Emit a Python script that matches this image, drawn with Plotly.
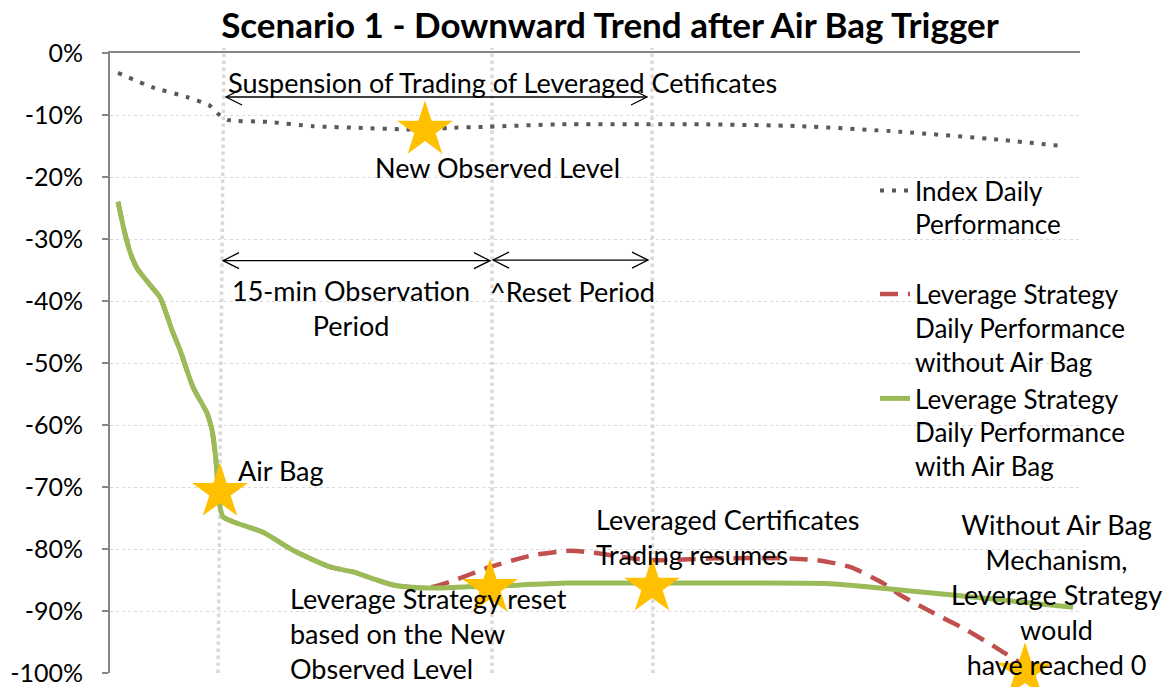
import plotly.graph_objects as go

# ---- data (time in arbitrary intraday units, values in %) ----
index_t = [0.8, 4.2, 7.7, 10.0, 10.8, 11.8, 15.7, 20.3, 25.3, 29.0, 31.5, 33.8, 37.7, 45.0, 54.0, 59.0, 69.0, 79.0, 89.0, 95.2]
index_v = [-3.2, -5.5, -7.1, -8.5, -9.8, -10.8, -11.1, -11.8, -12.1, -12.3, -12.4, -12.1, -11.9, -11.5, -11.5, -11.5, -11.8, -12.7, -14.0, -15.0]

airbag_t = [0.8, 1.4, 2.0, 2.7, 4.0, 5.0, 6.2, 7.0, 8.3, 9.7, 10.2, 10.7, 10.8, 11.3, 12.3, 15.3, 18.3, 22.0, 24.3, 28.3, 31.7,
            35.7, 38.2, 45.7, 54.0, 63.0, 72.0, 79.0, 89.0, 96.3]
airbag_v = [-24.0, -28.5, -32.1, -34.7, -37.4, -39.4, -44.7, -47.9, -53.9, -58.1, -60.8, -67.7, -71.0, -74.8, -75.6, -77.3, -80.2, -82.9, -83.7, -85.8, -86.3,
            -86.1, -86.0, -85.5, -85.5, -85.5, -85.6, -86.6, -88.2, -89.4]

noairbag_t = [0.8, 1.4, 2.0, 2.7, 4.0, 5.0, 6.2, 7.0, 8.3, 9.7, 10.2, 10.7, 10.8, 11.3, 12.3, 15.3, 18.3, 22.0, 24.3, 28.3, 31.7,
              34.0, 38.0, 42.3, 46.0, 48.3, 54.0, 60.7, 67.3, 70.7, 74.0, 77.3, 79.0, 82.3, 85.7, 89.0, 92.6]
noairbag_v = [-24.0, -28.5, -32.1, -34.7, -37.4, -39.4, -44.7, -47.9, -53.9, -58.1, -60.8, -67.7, -71.0, -74.8, -75.6, -77.3, -80.2, -82.9, -83.7, -85.8, -86.3,
              -85.3, -82.9, -81.0, -80.3, -80.6, -81.8, -81.5, -81.5, -81.8, -82.9, -85.5, -87.4, -90.3, -93.1, -96.3, -100.0]

star_t = [11.0, 31.5, 38.0, 54.2, 91.5]
star_v = [-70.8, -12.4, -86.3, -86.1, -99.8]

event_top_t = [11.4, 38.2, 54.2]     # air bag, reset, trading resumes
event_bottom_t = [10.8, 38.2, 54.3]

y_ticks = list(range(-100, 1, 10))
y_tick_labels = [f"{v}%" for v in y_ticks]

FONT = "Lato"
TXT = "#000000"
FS = 27

W, H = 1169, 687

fig = go.Figure()

fig.add_trace(go.Scatter(
    x=index_t, y=index_v, mode="lines", name="Index Daily<br>Performance",
    line=dict(color="#595959", width=4, dash="4px,8px", shape="spline", smoothing=0.6),
    legendgroup="idx"))
fig.add_trace(go.Scatter(
    x=noairbag_t, y=noairbag_v, mode="lines",
    name="Leverage Strategy<br>Daily Performance<br>without Air Bag",
    line=dict(color="#C0504D", width=4.5, dash="18px,10px", shape="spline", smoothing=0.6),
    legendgroup="lev"))
fig.add_trace(go.Scatter(
    x=airbag_t, y=airbag_v, mode="lines",
    name="Leverage Strategy<br>Daily Performance<br>with Air Bag",
    line=dict(color="#9BBB59", width=5, shape="spline", smoothing=0.6),
    legendgroup="lev"))
fig.add_trace(go.Scatter(
    x=star_t, y=star_v, mode="markers", showlegend=False,
    marker=dict(symbol="star", size=42, color="#FFC000", line=dict(width=0)),
    cliponaxis=False))

# vertical event lines
for t0, t1 in zip(event_top_t, event_bottom_t):
    fig.add_shape(type="line", xref="x", yref="paper", x0=t1, y0=0, x1=t0, y1=1.008,
                  line=dict(color="#D9D9D9", width=3.5, dash="dot"), layer="below")

# double arrows
def double_arrow(xa, xb, yv):
    fig.add_shape(type="line", xref="x", yref="y", x0=xa, x1=xb, y0=yv, y1=yv,
                  line=dict(color="#000000", width=1.3))
    for xt, sgn in ((xa, 1), (xb, -1)):
        fig.add_shape(type="path", xref="x", yref="y", xsizemode="pixel", ysizemode="pixel",
                      xanchor=xt, yanchor=yv,
                      path=f"M {16*sgn},8 L 0,0 L {16*sgn},-8",
                      line=dict(color="#000000", width=1.3))

double_arrow(event_top_t[0] + 0.2, event_top_t[2] - 0.5, -7.1)
double_arrow(event_top_t[0] - 0.1, event_top_t[1] - 0.2, -33.5)
double_arrow(event_top_t[1] + 0.1, event_top_t[2] - 0.4, -33.4)

ann = dict(showarrow=False, font=dict(family=FONT, size=FS, color=TXT))
fig.add_annotation(x=11.6, y=-4.7, xanchor="left", yanchor="middle",
                   text="Suspension of Trading of Leveraged Cetificates", **ann)
fig.add_annotation(x=24.1, y=-41.2, xanchor="center", yanchor="middle", align="center",
                   text="15-min Observation<br>Period", **ann)
fig.add_annotation(x=37.8, y=-38.5, xanchor="left", yanchor="middle",
                   text="^Reset Period", **ann)
fig.add_annotation(x=38.7, y=-18.5, xanchor="center", yanchor="middle",
                   text="New Observed Level", **ann)
fig.add_annotation(x=12.6, y=-67.3, xanchor="left", yanchor="middle",
                   text="Air Bag", **ann)
fig.add_annotation(x=17.8, y=-93.7, xanchor="left", yanchor="middle", align="left",
                   text="Leverage Strategy reset<br>based on the New<br>Observed Level", **ann)
fig.add_annotation(x=48.4, y=-78.1, xanchor="left", yanchor="middle", align="left",
                   text="Leveraged Certificates<br>Trading resumes", **ann)
fig.add_annotation(x=94.6, y=-87.4, xanchor="center", yanchor="middle", align="center",
                   text="Without Air Bag<br>Mechanism,<br>Leverage Strategy<br>would<br>have reached 0", **ann)

fig.update_layout(
    width=W, height=H,
    paper_bgcolor="white", plot_bgcolor="white",
    margin=dict(l=110, r=89, t=53, b=14, autoexpand=False),
    font=dict(family=FONT, color=TXT),
    title=dict(text="<b>Scenario 1 - Downward Trend after Air Bag Trigger</b>",
               x=610/W, xanchor="center", xref="container",
               y=1 - 26/H, yanchor="middle", yref="container",
               font=dict(family=FONT, size=35, color=TXT)),
    xaxis=dict(range=[0, 97], side="top", showline=True, linecolor="#868686", linewidth=2,
               showgrid=False, zeroline=False, showticklabels=False, ticks=""),
    yaxis=dict(range=[-100, 0], tickmode="array", tickvals=y_ticks, ticktext=y_tick_labels,
               showline=True, linecolor="#868686", linewidth=2, ticks="outside", ticklen=6,
               tickcolor="#868686", tickwidth=2, showgrid=True, gridcolor="#D9D9D9",
               griddash="dot", gridwidth=1, zeroline=False, ticklabelstandoff=14,
               tickfont=dict(family=FONT, size=25, color=TXT)),
    showlegend=True,
    legend=dict(x=875/W, xref="container", y=1 - 167/H, yref="container",
                xanchor="left", yanchor="top", valign="top", traceorder="grouped",
                tracegroupgap=33, bgcolor="rgba(0,0,0,0)",
                font=dict(family=FONT, size=26, color=TXT)),
)

fig.write_html("out.html", config=dict(displayModeBar=False),
               post_script="document.body.style.margin='0';document.body.style.overflow='hidden';")
